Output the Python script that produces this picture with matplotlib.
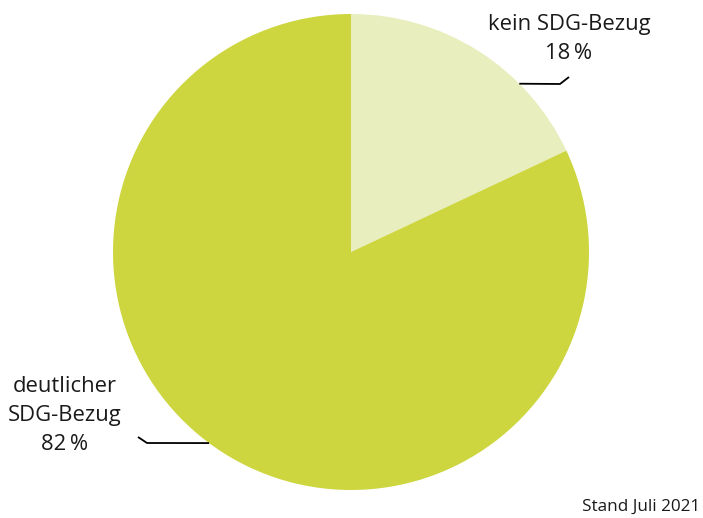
import numpy as np
import matplotlib
matplotlib.use("Agg")
import matplotlib.pyplot as plt

plt.rcParams['font.family'] = ['Open Sans', 'DejaVu Sans']

labels = ['kein SDG-Bezug\n18\u2009%', 'deutlicher\nSDG-Bezug\n82\u2009%']
shares = [18, 82]
colors = ['#e8eebd', '#cdd63e']
note = 'Stand Juli 2021'

W, H = 703, 518
fig = plt.figure(figsize=(W / 100, H / 100), dpi=100)
ax = fig.add_axes([0, 0, 1, 1])

cx, cy, r = 351, 266, 238
ax.pie(shares, colors=colors, startangle=90, counterclock=False,
       center=(cx, cy), radius=r, frame=True,
       wedgeprops=dict(linewidth=0))
ax.set_xlim(0, W)
ax.set_ylim(0, H)
ax.set_aspect('equal')
ax.axis('off')

# leader lines: point on the rim -> elbow -> text
def leader(angle_deg, pts):
    a = np.radians(angle_deg)
    x0, y0 = cx + r * np.cos(a), cy + r * np.sin(a)
    xs = [x0] + [p[0] for p in pts]
    ys = [y0] + [p[1] for p in pts]
    ax.plot(xs, ys, color='black', lw=1.3, solid_capstyle='butt')

leader(45, [(560, H - 84), (569, H - 77)])
leader(233.4, [(147, H - 443), (138, H - 437)])

ax.text(569, H - 39, labels[0], ha='center', va='center', fontsize=15.8,
        linespacing=1.5, color='#1a1a1a')
ax.text(65, H - 415, labels[1], ha='center', va='center', fontsize=15.8,
        linespacing=1.5, color='#1a1a1a')
ax.text(700, H - 507, note, ha='right', va='center', fontsize=12.3,
        color='#1a1a1a')

fig.savefig('out.png', dpi=100)
